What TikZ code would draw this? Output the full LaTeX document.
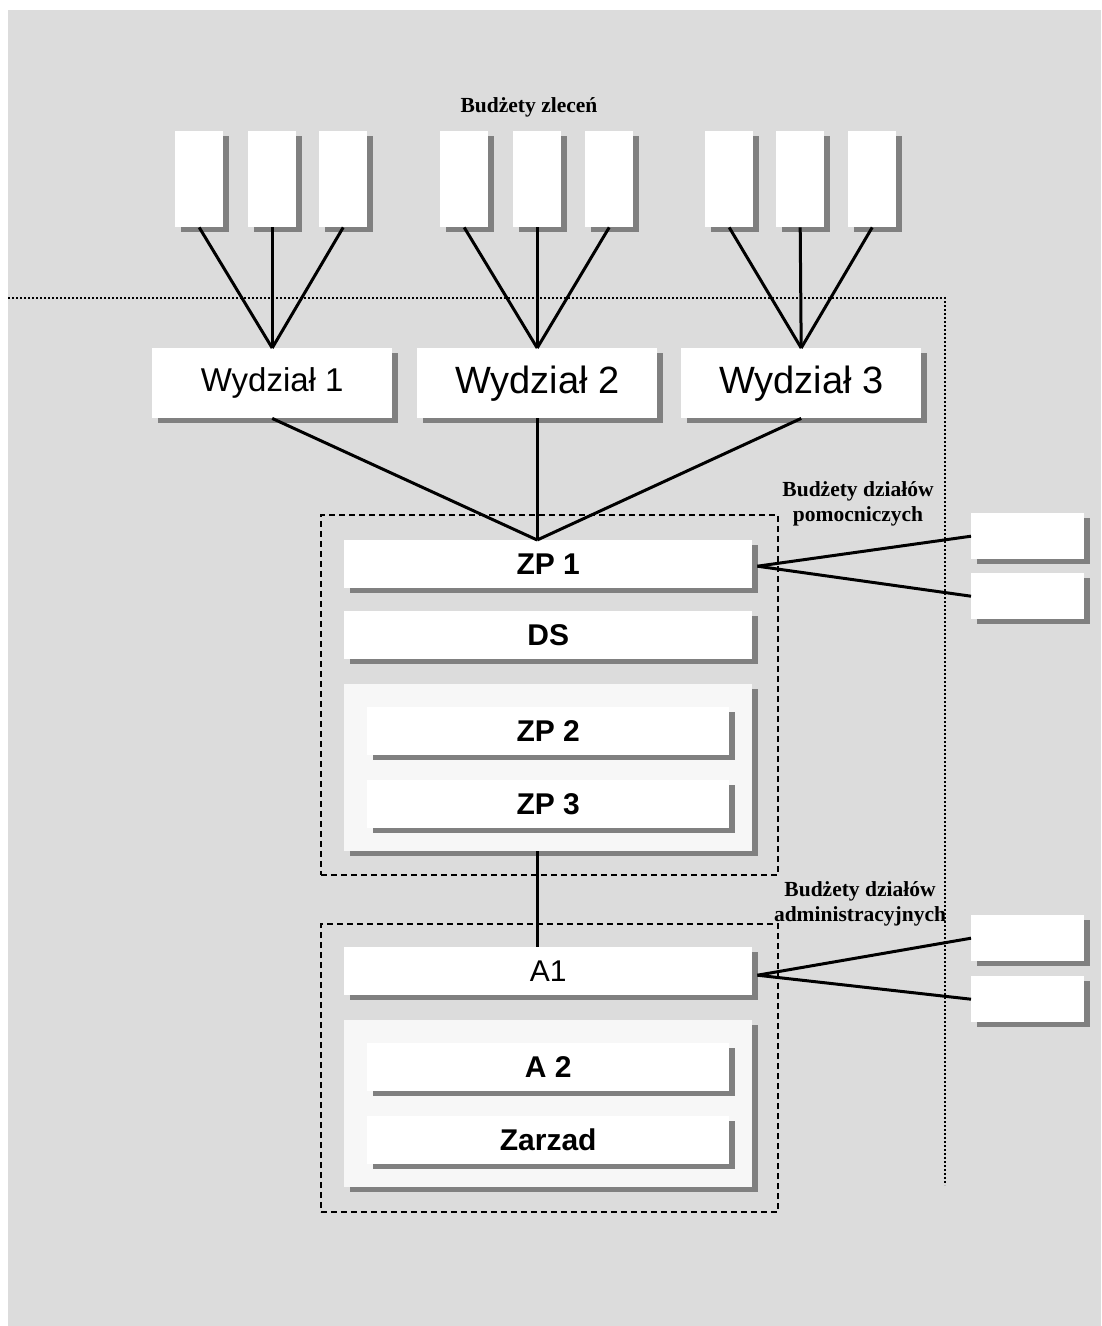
\documentclass[tikz,border=0pt]{standalone}
\usepackage{fontspec}
\setmainfont{Liberation Sans}
\newfontfamily\lserif{Liberation Serif}
\usetikzlibrary{shadows,calc}
\definecolor{bggray}{RGB}{220,220,220}
\definecolor{shgray}{RGB}{128,128,128}
\definecolor{lightbox}{RGB}{247,247,247}
\tikzset{
  boxbase/.style={fill=white, draw=none, inner sep=0pt, anchor=north west,
    drop shadow={shadow xshift=6pt, shadow yshift=-5pt, fill=shgray, opacity=1}},
  smallbox/.style={boxbase, minimum width=48pt, minimum height=96pt},
  sidebox/.style={boxbase, minimum width=113pt, minimum height=46pt},
  wbox/.style={boxbase, minimum width=240pt, minimum height=70pt, font=\fontsize{38}{42}\selectfont},
  barbox/.style={boxbase, minimum width=408pt, minimum height=48pt, font=\fontsize{30}{34}\selectfont\bfseries},
  innerbar/.style={boxbase, minimum width=362pt, minimum height=48pt, font=\fontsize{30}{34}\selectfont\bfseries},
  groupbox/.style={boxbase, fill=lightbox, minimum width=408pt, minimum height=167pt},
  dashbox/.style={draw=black, line width=1.8pt, dash pattern=on 6pt off 4pt, inner sep=0pt, anchor=north west},
  conn/.style={draw=black, line width=3pt},
  caption/.style={font=\lserif\bfseries\fontsize{21.5}{25}\selectfont, align=center, inner sep=0pt}
}
\begin{document}
\begin{tikzpicture}[x=1pt,y=-1pt]
\useasboundingbox (0,0) rectangle (1101,1326);
\fill[white] (0,0) rectangle (1101,1326);
\fill[bggray] (8,10) rectangle (1101,1326);

% dotted boundary
\coordinate (dotA) at (8,298);
\coordinate (dotB) at (945,298);
\coordinate (dotC) at (945,1185);
\draw[line width=2pt, dash pattern=on 2pt off 2pt] (dotA) -- (dotB) -- (dotC);

% caption top
\node[caption] (capz) at (529,107) {Budżety zleceń};

% small top boxes
\node[smallbox] (s11) at (175,131) {};
\node[smallbox] (s12) at (248,131) {};
\node[smallbox] (s13) at (319,131) {};
\node[smallbox] (s21) at (440,131) {};
\node[smallbox] (s22) at (513,131) {};
\node[smallbox] (s23) at (585,131) {};
\node[smallbox] (s31) at (705,131) {};
\node[smallbox] (s32) at (776,131) {};
\node[smallbox] (s33) at (848,131) {};

% Wydzial boxes
\node[wbox, font=\fontsize{33}{38}\selectfont] (w1) at (152,348) {Wydział 1};
\node[wbox] (w2) at (417,348) {Wydział 2};
\node[wbox] (w3) at (681,348) {Wydział 3};

\foreach \s in {s11,s12,s13} \draw[conn] (\s.south) -- (w1.north);
\foreach \s in {s21,s22,s23} \draw[conn] (\s.south) -- (w2.north);
\foreach \s in {s31,s32,s33} \draw[conn] (\s.south) -- (w3.north);

% first dashed group
\node[dashbox, minimum width=457pt, minimum height=360pt] (dg1) at (320,514) {};
\node[barbox] (zp1) at (344,540) {ZP 1};
\node[barbox] (ds) at (344,611) {DS};
\node[groupbox] (g1) at (344,684) {};
\node[innerbar] (zp2) at (367,707) {ZP 2};
\node[innerbar] (zp3) at (367,780) {ZP 3};

\coordinate (zptop) at (w2.south |- zp1.north);
\foreach \w in {w1,w2,w3} \draw[conn] (\w.south) -- (zptop);

% second dashed group
\node[dashbox, minimum width=457pt, minimum height=288pt] (dg2) at (320,923) {};
\node[barbox, font=\fontsize{30}{34}\selectfont] (a1) at (344,947) {A1};
\node[groupbox] (g2) at (344,1020) {};
\node[innerbar] (a2) at (367,1043) {A 2};
\node[innerbar] (zar) at (367,1116) {Zarzad};

\draw[conn] (w2.south |- g1.south) -- (w2.south |- a1.north);

% side boxes
\node[sidebox] (r1) at (971,513) {};
\node[sidebox] (r2) at (971,573) {};
\node[sidebox] (r3) at (971,915) {};
\node[sidebox] (r4) at (971,976) {};

\coordinate (zp1out) at ($(zp1.east)+(5,2)$);
\coordinate (a1out) at ($(a1.east)+(5,4)$);
\draw[conn] (zp1out) -- (r1.west);
\draw[conn] (zp1out) -- (r2.west);
\draw[conn] (a1out) -- (r3.west);
\draw[conn] (a1out) -- (r4.west);

\node[caption] (cap1) at (858,504) {Budżety działów\\pomocniczych};
\node[caption] (cap2) at (860,904) {Budżety działów\\administracyjnych};
\end{tikzpicture}
\end{document}
